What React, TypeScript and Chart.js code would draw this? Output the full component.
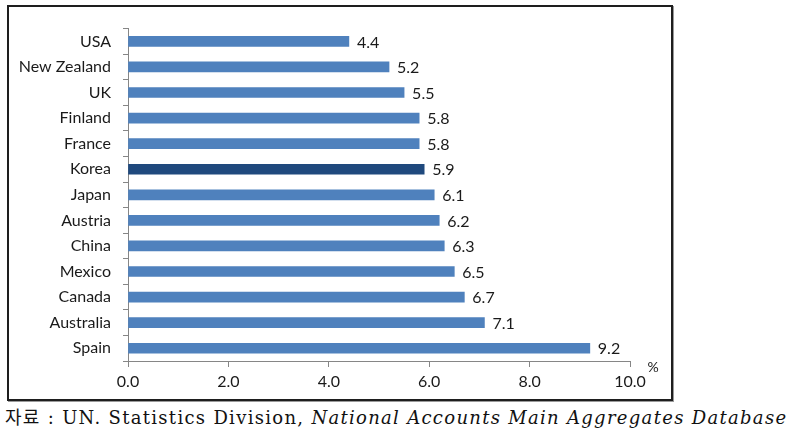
import React, { useEffect, useRef } from "react";
import { Chart, registerables } from "chart.js";

Chart.register(...registerables);

const countries = ["USA", "New Zealand", "UK", "Finland", "France", "Korea", "Japan", "Austria", "China", "Mexico", "Canada", "Australia", "Spain"];
const values = [4.4, 5.2, 5.5, 5.8, 5.8, 5.9, 6.1, 6.2, 6.3, 6.5, 6.7, 7.1, 9.2];
const highlight = "Korea";
const xTicks = [0, 2, 4, 6, 8, 10];
const unitLabel = "%";
const sourcePrefix = "자료 : UN. Statistics Division, ";
const sourceTitle = "National Accounts Main Aggregates Database";

const BAR = "#4F81BD";
const BAR_HI = "#1F497D";
const AXIS = "#868686";
const FONT = "Lato, 'Open Sans', sans-serif";

export default function App() {
  const ref = useRef<HTMLCanvasElement>(null);
  useEffect(() => {
    if (!ref.current) return;
    const labelPlugin = {
      id: "valueLabels",
      afterDatasetsDraw(chart: any) {
        const ctx = chart.ctx;
        const meta = chart.getDatasetMeta(0);
        ctx.save();
        ctx.font = `16px ${FONT}`;
        ctx.fillStyle = "#1a1a1a";
        ctx.textAlign = "left";
        ctx.textBaseline = "middle";
        meta.data.forEach((el: any, i: number) => {
          ctx.fillText(values[i].toFixed(1), el.x + 8, el.y + 1);
        });
        const xs = chart.scales.x;
        ctx.font = `14px ${FONT}`;
        ctx.textAlign = "center";
        ctx.fillText(unitLabel, xs.right + 23, xs.top + 6);
        ctx.restore();
      },
    };
    const chart = new Chart(ref.current, {
      type: "bar",
      data: {
        labels: countries,
        datasets: [
          {
            data: values,
            backgroundColor: countries.map((c) => (c === highlight ? BAR_HI : BAR)),
            barThickness: 10,
            borderWidth: 0,
          },
        ],
      },
      options: {
        indexAxis: "y",
        animation: false,
        responsive: false,
        maintainAspectRatio: false,
        layout: { padding: { top: 18, right: 41, left: 0, bottom: 0 } },
        plugins: { legend: { display: false }, tooltip: { enabled: false } },
        scales: {
          x: {
            min: 0,
            max: 10,
            afterBuildTicks: (s: any) => {
              s.ticks = xTicks.map((v) => ({ value: v }));
            },
            afterFit: (s: any) => {
              s.height = 38;
            },
            ticks: {
              callback: (v: any) => Number(v).toFixed(1),
              font: { family: FONT, size: 16 },
              color: "#1a1a1a",
              padding: 5,
              maxRotation: 0,
            },
            grid: { drawOnChartArea: false, drawTicks: true, tickLength: 6, color: AXIS },
            border: { color: AXIS, width: 1 },
          },
          y: {
            afterFit: (s: any) => {
              s.width = 119;
            },
            ticks: {
              font: { family: FONT, size: 16 },
              color: "#1a1a1a",
              padding: 12,
            },
            grid: { drawOnChartArea: false, drawTicks: true, tickLength: 5, color: AXIS, offset: true },
            border: { color: AXIS, width: 1 },
          },
        },
      },
      plugins: [labelPlugin],
    } as any);
    return () => chart.destroy();
  }, []);

  return (
    <div style={{ position: "absolute", left: 0, top: 0, width: 794, height: 435, background: "#fff" }}>
      <div
        style={{
          position: "absolute",
          left: 7,
          top: 5,
          width: 662,
          height: 392,
          border: "2px solid #1e1e1e",
          boxShadow: "1px 1px 0 #9a9a9a",
          background: "#fff",
        }}
      >
        <canvas ref={ref} width={662} height={392} style={{ display: "block" }} />
      </div>
      <div
        style={{
          position: "absolute",
          left: 5,
          top: 405,
          whiteSpace: "nowrap",
          fontFamily: "'DejaVu Serif', 'Noto Sans CJK KR', serif",
          fontSize: 18,
          letterSpacing: 1.3,
          color: "#111",
          lineHeight: "26px",
        }}
      >
        {sourcePrefix}
        <i>{sourceTitle}</i>
      </div>
    </div>
  );
}
